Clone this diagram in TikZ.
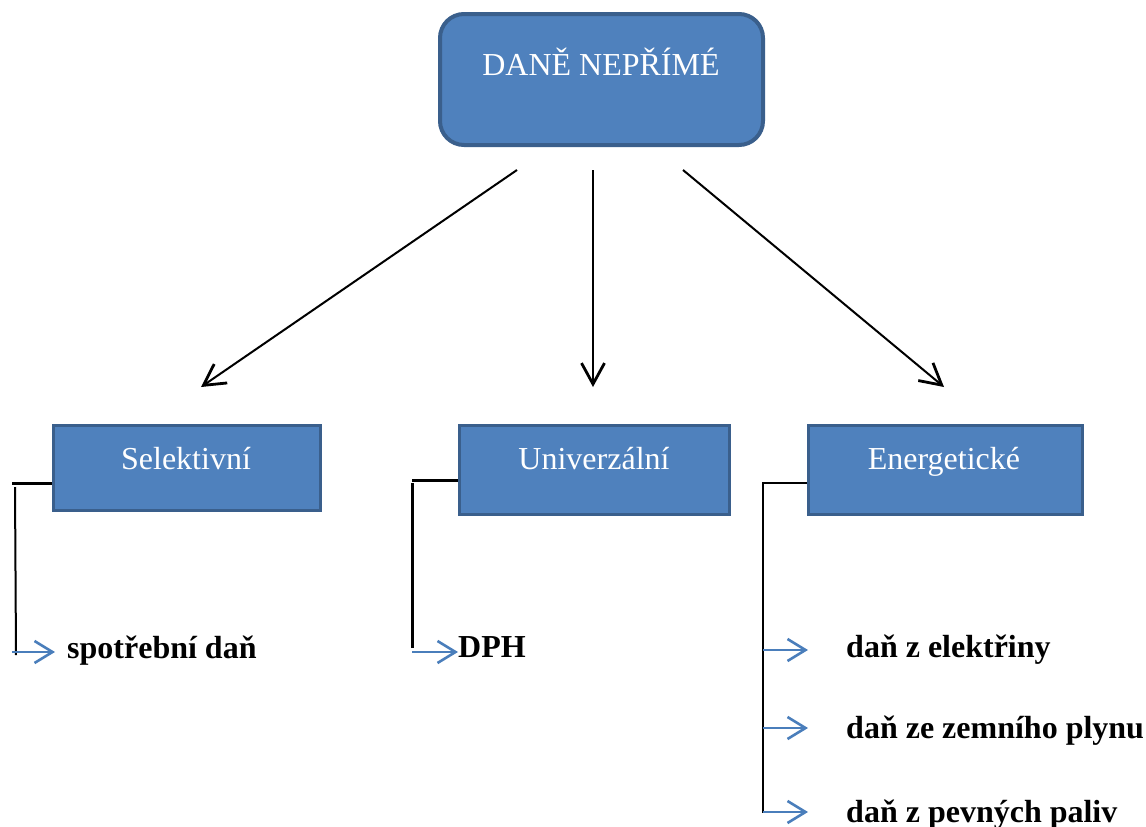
\documentclass[tikz,border=0pt]{standalone}
\usepackage{fontspec}
\setmainfont{Liberation Serif}
\usetikzlibrary{arrows.meta}
\definecolor{boxfill}{HTML}{4F81BD}
\definecolor{boxedge}{HTML}{3A5F8C}
\definecolor{arrblue}{HTML}{4A7EBB}
\begin{document}
\begin{tikzpicture}[x=1pt,y=-1pt,
  mainbox/.style={draw=boxedge, fill=boxfill, line width=4pt, rounded corners=24pt, inner sep=0pt},
  catbox/.style={draw=boxedge, fill=boxfill, line width=3pt, inner sep=0pt},
  boxtext/.style={text=white, inner sep=0pt, anchor=base, font=\fontsize{32}{38}\selectfont},
  leaftext/.style={inner sep=0pt, anchor=base west, font=\fontsize{32}{38}\selectfont\bfseries},
  mainarrow/.style={line width=2pt, -{Straight Barb[length=21pt,width=23pt,line width=2.8pt]}},
  bluearrow/.style={draw=arrblue, line width=2.6pt, -{Straight Barb[length=18pt,width=22pt,line width=2.6pt]}},
  stem/.style={line width=2pt},
  elbow/.style={line width=3pt}]
\useasboundingbox (0,0) rectangle (1146,827);
% top box
\node[mainbox, minimum width=323pt, minimum height=131pt] (top) at (601.5,79.5) {};
\node[boxtext] (toptext) at (601,75) {DANĚ NEPŘÍMÉ};
% category boxes
\node[catbox, minimum width=267pt, minimum height=85pt] (sel) at (186.5,467.5) {};
\node[boxtext] (seltext) at (186,469) {Selektivní};
\node[catbox, minimum width=270pt, minimum height=89pt] (uni) at (594,469.5) {};
\node[boxtext] (unitext) at (594,469) {Univerzální};
\node[catbox, minimum width=274pt, minimum height=89pt] (ene) at (945,469.5) {};
\node[boxtext] (enetext) at (944,469) {Energetické};
% main arrows
\coordinate (a1s) at (517,170); \coordinate (a1e) at (201,387);
\coordinate (a2s) at (593,170); \coordinate (a2e) at (593,387);
\coordinate (a3s) at (683,170); \coordinate (a3e) at (944,387);
\draw[mainarrow] (a1s) -- (a1e);
\draw[mainarrow] (a2s) -- (a2e);
\draw[mainarrow] (a3s) -- (a3e);
% leaf texts
\node[leaftext] (spd) at (67,658) {spotřební daň};
\node[leaftext] (dph) at (458,657) {DPH};
\node[leaftext] (el) at (846,657) {daň z elektřiny};
\node[leaftext] (zp) at (846,738) {daň ze zemního plynu};
\node[leaftext] (pp) at (846,822) {daň z pevných paliv};
% Selektivní branch
\coordinate (s0) at (12,483); \coordinate (s1) at (15,487); \coordinate (s2) at (16,655);
\coordinate (s3) at (12,652);
\draw[elbow] (s0) -- (sel.west |- s0);
\draw[stem] (s1) -- (s2);
\draw[bluearrow] (s3) -- (55,652);
% Univerzální branch
\coordinate (u0) at (412,480); \coordinate (u1) at (412,483); \coordinate (u2) at (412,648);
\coordinate (u3) at (412,652);
\draw[elbow] (u0) -- (uni.west |- u0);
\draw[line width=3pt] (u1) -- (u2);
\draw[bluearrow] (u3) -- (dph.west |- u3);
% Energetické branch
\coordinate (e0) at (763,483); \coordinate (e1) at (763,813);
\draw[stem] (ene.west |- e0) -- (e0) -- (e1);
\coordinate (b1) at (763,650); \coordinate (b2) at (763,728); \coordinate (b3) at (763,812);
\draw[bluearrow] (b1) -- (808,650);
\draw[bluearrow] (b2) -- (808,728);
\draw[bluearrow] (b3) -- (808,812);
\end{tikzpicture}
\end{document}
